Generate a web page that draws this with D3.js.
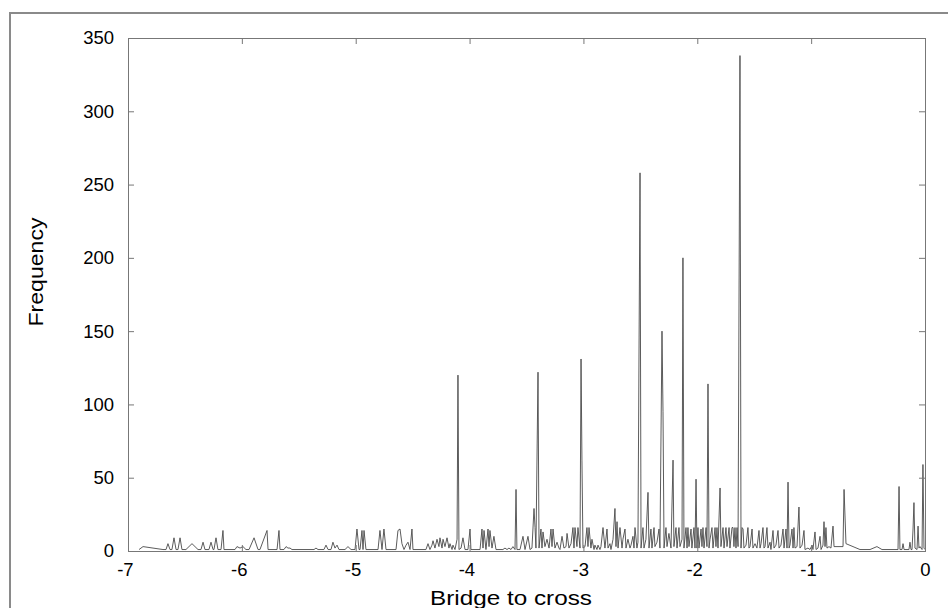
<!DOCTYPE html>
<html lang="en">
<head>
<meta charset="UTF-8" />
<title>Bridge to cross</title>
<script src="https://d3js.org/d3.v7.min.js"></script>
<style>
    body {
        margin: 0;
        background: #fff;
        font-family: 'Liberation Sans', Arial, sans-serif;
    }
    .axis .domain {
        display: none;
    }
    .axis text {
        font-family: 'Liberation Sans', Arial, sans-serif;
        font-size: 18.5px;
        fill: #000;
    }
    .axis line {
        stroke: #777;
    }
    .title {
        font-size: 21px;
        fill: #000;
    }
</style>
</head>
<body>
<svg width="948" height="608"></svg>
<script>

// readings: [bridge to cross, frequency], left to right
var segA = [[-6.903,1],[-6.868,3],[-6.693,1],[-6.666,1],[-6.649,5],[-6.631,1],[-6.614,1],[-6.596,9],[-6.578,1],[-6.561,1],[-6.543,9],[-6.526,1],[-6.491,1],[-6.438,5],[-6.385,1],[-6.359,1],[-6.341,6],[-6.324,1],[-6.289,1],[-6.271,6],[-6.253,1],[-6.245,1],[-6.227,9],[-6.210,1],[-6.183,1],[-6.166,14],[-6.157,1],[-6.060,1],[-6.043,3],[-6.016,2],[-5.990,3],[-5.964,1],[-5.937,1],[-5.893,9],[-5.858,1],[-5.841,1],[-5.779,14],[-5.770,1],[-5.691,1],[-5.674,14],[-5.665,1],[-5.630,1],[-5.612,3],[-5.595,2],[-5.577,2],[-5.560,1],[-5.366,1],[-5.349,2],[-5.331,1],[-5.279,1],[-5.261,4],[-5.243,1],[-5.217,1],[-5.200,6],[-5.182,2],[-5.164,4],[-5.147,1],[-5.094,1],[-5.068,3],[-5.041,1],[-5.006,1],[-4.989,15],[-4.971,1],[-4.962,1],[-4.945,14],[-4.936,1],[-4.927,14],[-4.910,1]];

var segB = [[-4.804,1],[-4.787,14],[-4.769,1],[-4.752,15],[-4.734,1],[-4.646,1],[-4.629,14],[-4.611,15],[-4.594,5],[-4.576,1],[-4.558,4],[-4.541,6],[-4.523,1],[-4.506,15],[-4.497,1],[-4.383,1],[-4.365,5],[-4.348,1],[-4.330,4],[-4.321,7],[-4.304,2],[-4.286,8],[-4.269,3],[-4.260,9],[-4.242,2],[-4.233,8],[-4.216,3],[-4.198,9],[-4.181,2],[-4.172,5],[-4.154,1],[-4.146,4],[-4.128,1],[-4.110,8],[-4.102,120],[-4.093,1],[-4.075,2],[-4.058,9],[-4.040,1],[-4.014,1],[-3.996,15],[-3.988,1]];

var segC = [[-3.908,1],[-3.891,15],[-3.882,2],[-3.873,14],[-3.856,1],[-3.838,15],[-3.829,3],[-3.821,14],[-3.803,2],[-3.786,10],[-3.768,1],[-3.707,1],[-3.689,2],[-3.671,1],[-3.654,2],[-3.636,1],[-3.619,3],[-3.601,1],[-3.592,42],[-3.584,1],[-3.557,1],[-3.531,10],[-3.513,1],[-3.487,10],[-3.469,1],[-3.452,2],[-3.434,29],[-3.425,16],[-3.417,2],[-3.399,122],[-3.390,2],[-3.373,15],[-3.364,2],[-3.355,13],[-3.338,3],[-3.320,8],[-3.302,2],[-3.285,15],[-3.276,3],[-3.267,15],[-3.250,2],[-3.232,6],[-3.215,2],[-3.206,1],[-3.188,10],[-3.171,2],[-3.153,3],[-3.144,12],[-3.127,2],[-3.109,5],[-3.092,16],[-3.083,2],[-3.074,16],[-3.057,3],[-3.048,16],[-3.030,2],[-3.021,131],[-3.013,62],[-3.004,2]];

var segD = [[-2.986,3],[-2.969,16],[-2.960,3],[-2.951,16],[-2.934,2],[-2.925,8],[-2.907,1],[-2.899,4],[-2.881,1],[-2.872,4],[-2.855,1],[-2.846,3],[-2.828,16],[-2.811,2],[-2.793,15],[-2.784,2],[-2.767,5],[-2.758,1],[-2.740,8],[-2.723,29],[-2.714,3],[-2.705,20],[-2.696,2],[-2.679,16],[-2.661,2],[-2.653,8],[-2.635,15],[-2.626,2],[-2.609,8],[-2.591,2],[-2.582,4],[-2.565,10],[-2.556,2],[-2.547,16],[-2.530,2],[-2.521,6],[-2.503,258],[-2.494,2],[-2.477,16],[-2.468,2],[-2.451,8],[-2.433,40],[-2.424,2],[-2.407,15],[-2.398,2],[-2.380,16],[-2.372,3],[-2.354,6],[-2.336,15],[-2.328,2],[-2.310,150],[-2.301,95],[-2.292,2],[-2.275,16],[-2.266,3],[-2.249,12],[-2.231,2],[-2.213,62],[-2.205,3],[-2.187,16],[-2.178,2],[-2.161,16],[-2.152,3],[-2.134,8],[-2.126,200],[-2.117,2],[-2.099,16],[-2.090,2],[-2.082,16],[-2.073,3],[-2.055,15],[-2.047,2],[-2.029,16],[-2.020,2],[-2.011,49],[-2.003,2]];

var segE = [[-1.994,16],[-1.985,2],[-1.967,15],[-1.959,3],[-1.950,16],[-1.941,2],[-1.923,16],[-1.915,3],[-1.906,114],[-1.897,2],[-1.888,8],[-1.871,16],[-1.862,2],[-1.844,16],[-1.836,3],[-1.827,16],[-1.818,2],[-1.800,43],[-1.792,3],[-1.774,16],[-1.765,2],[-1.748,16],[-1.739,3],[-1.721,16],[-1.713,2],[-1.695,16],[-1.686,16],[-1.678,3],[-1.669,16],[-1.660,2],[-1.651,16],[-1.642,3],[-1.625,338],[-1.616,2],[-1.607,16],[-1.598,15],[-1.590,2],[-1.572,4],[-1.555,16],[-1.546,2],[-1.537,3],[-1.519,15],[-1.511,2],[-1.493,5],[-1.476,2],[-1.458,14],[-1.449,2],[-1.440,5],[-1.423,16],[-1.414,2],[-1.405,3],[-1.388,16],[-1.379,2],[-1.361,6],[-1.353,1],[-1.335,14],[-1.326,2],[-1.309,4],[-1.291,14],[-1.282,2],[-1.265,4],[-1.247,15],[-1.238,2],[-1.221,15],[-1.212,2],[-1.203,47],[-1.194,2],[-1.186,4],[-1.168,15],[-1.159,2],[-1.151,16],[-1.142,2],[-1.124,3],[-1.107,30],[-1.098,2],[-1.080,4],[-1.063,14],[-1.054,1],[-1.028,2],[-1.010,1],[-0.992,4],[-0.984,1],[-0.966,13],[-0.957,1],[-0.940,2],[-0.922,10],[-0.913,1],[-0.896,4],[-0.887,20],[-0.878,3],[-0.870,16],[-0.861,2],[-0.843,3],[-0.826,2],[-0.808,17],[-0.799,3],[-0.720,3]];

var segF = [[-0.711,42],[-0.694,5],[-0.571,1],[-0.483,1],[-0.422,3],[-0.378,1],[-0.237,1],[-0.228,44],[-0.220,1],[-0.202,1],[-0.193,5],[-0.184,1],[-0.141,1],[-0.132,6],[-0.123,1],[-0.114,1],[-0.105,15],[-0.097,33],[-0.088,2],[-0.070,1],[-0.061,17],[-0.053,2],[-0.044,3],[-0.026,1],[-0.018,59],[-0.009,2],[0,1]];

var xTicks = [-7, -6, -5, -4, -3, -2, -1, 0];
var yTicks = [0, 50, 100, 150, 200, 250, 300, 350];

var points = [].concat(segA, segB, segC, segD, segE, segF);

// format stuff
var svg = d3.select("svg"),
    margin = {top: 38, right: 23, bottom: 57, left: 128},
    width = +svg.attr("width") - margin.left - margin.right,
    height = +svg.attr("height") - margin.top - margin.bottom,
    g = svg.append("g").attr("transform", "translate(" + margin.left + "," + margin.top + ")");

var x = d3.scaleLinear().domain([-7, 0]).range([0, width]);
var y = d3.scaleLinear().domain([0, 350]).range([height, 0]);

// window frame, top and left edges only
svg.append("path")
    .attr("d", "M10,608V13H948")
    .attr("fill", "none")
    .attr("stroke", "#8a8a8a")
    .attr("stroke-width", 2);

// plot box
g.append("rect")
    .attr("x", 0.5)
    .attr("y", 0.5)
    .attr("width", width)
    .attr("height", height)
    .attr("fill", "none")
    .attr("stroke", "#777")
    .attr("shape-rendering", "crispEdges");

// the frequency line
var line = d3.line()
    .x(function(d) { return x(d[0]); })
    .y(function(d) { return y(d[1]); });

g.append("path")
    .datum(points)
    .attr("d", line)
    .attr("fill", "none")
    .attr("stroke", "#4a4a4a")
    .attr("stroke-width", 0.9);

// ticks point inward on all four sides
g.append("g")
    .attr("class", "axis")
    .attr("transform", "translate(0," + height + ")")
    .call(d3.axisBottom(x).tickValues(xTicks).tickSizeInner(-6).tickSizeOuter(0)
        .tickPadding(12).tickFormat(function(d) { return String(d); }))
  .selectAll("text")
    .attr("dx", function(d) { return d < 0 ? "-0.17em" : null; });

g.append("g")
    .attr("class", "axis")
    .call(d3.axisLeft(y).tickValues(yTicks).tickSizeInner(-6).tickSizeOuter(0)
        .tickPadding(14).tickFormat(function(d) { return String(d); }));

g.append("g")
    .attr("class", "axis")
    .call(d3.axisTop(x).tickValues(xTicks).tickSizeInner(-6).tickSizeOuter(0).tickFormat(""));

g.append("g")
    .attr("class", "axis")
    .attr("transform", "translate(" + width + ",0)")
    .call(d3.axisRight(y).tickValues(yTicks).tickSizeInner(-6).tickSizeOuter(0).tickFormat(""));

// axis titles
svg.append("text")
    .attr("class", "title")
    .attr("x", 430)
    .attr("y", 605)
    .attr("textLength", 162)
    .attr("lengthAdjust", "spacingAndGlyphs")
    .text("Bridge to cross");

svg.append("text")
    .attr("class", "title")
    .attr("transform", "translate(43,272) rotate(-90)")
    .attr("text-anchor", "middle")
    .attr("textLength", 109)
    .attr("lengthAdjust", "spacingAndGlyphs")
    .text("Frequency");

</script>
</body>
</html>
